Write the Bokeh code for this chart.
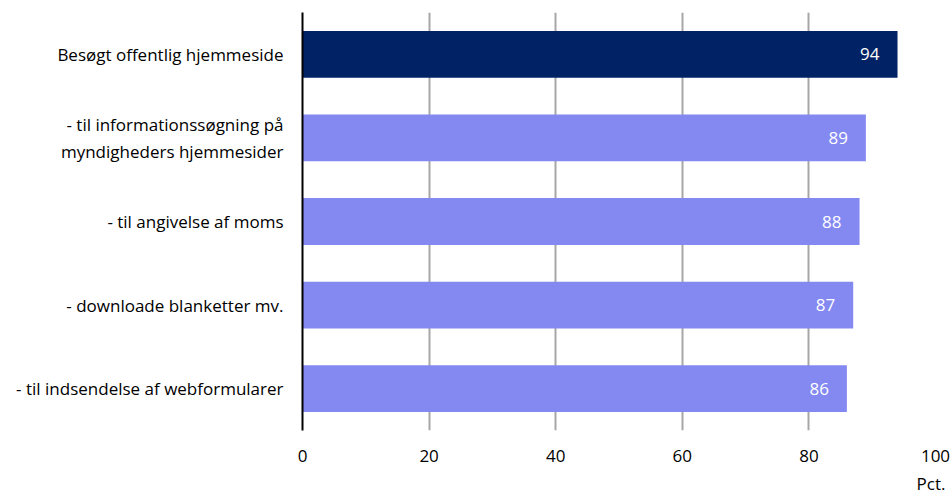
from bokeh.plotting import figure
from bokeh.models import FactorRange, Range1d, ColumnDataSource, FixedTicker, LabelSet, Title
from bokeh.core.properties import value
from bokeh.embed import file_html
from bokeh.resources import INLINE

categories = [
    "Besøgt offentlig hjemmeside",
    "- til informationssøgning på\nmyndigheders hjemmesider",
    "- til angivelse af moms",
    "- downloade blanketter mv.",
    "- til indsendelse af webformularer",
]
values = [94, 89, 88, 87, 86]
colors = ["#022266", "#8489f2", "#8489f2", "#8489f2", "#8489f2"]
x_ticks = [0, 20, 40, 60, 80, 100]

FONT = "Open Sans"
FS = "17px"

p = figure(
    width=952, height=499,
    y_range=FactorRange(*list(reversed(categories)), range_padding=0),
    x_range=Range1d(0, 100),
    output_backend="svg", toolbar_location=None,
    min_border_left=302, min_border_right=17, min_border_top=12, min_border_bottom=68,
)
p.outline_line_color = None

src = ColumnDataSource(dict(cat=categories, val=values, col=colors,
                            lab=[str(v) for v in values]))
p.hbar(y="cat", right="val", left=0, height=0.56, fill_color="col",
       line_color=None, source=src)

labels = LabelSet(x="val", y="cat", text="lab", source=src, x_offset=-18,
                  text_align="right", text_baseline="middle",
                  text_color=value("white"), text_font=value(FONT),
                  text_font_size=value(FS))
p.add_layout(labels)

p.xaxis.ticker = FixedTicker(ticks=x_ticks)
p.xaxis.axis_line_color = None
p.xaxis.major_tick_line_color = None
p.xaxis.minor_tick_line_color = None
p.xaxis.major_label_standoff = 13
p.xaxis.major_label_text_font = FONT
p.xaxis.major_label_text_font_size = FS
p.xaxis.major_label_text_color = "#000000"

p.yaxis.axis_line_color = "#000000"
p.yaxis.axis_line_width = 2
p.yaxis.major_tick_line_color = None
p.yaxis.minor_tick_line_color = None
p.yaxis.major_label_standoff = 13
p.yaxis.major_label_text_font = FONT
p.yaxis.major_label_text_font_size = FS
p.yaxis.major_label_text_color = "#000000"

p.xgrid.grid_line_color = "#a6a6a6"
p.xgrid.grid_line_width = 2
p.ygrid.grid_line_color = None

p.add_layout(Title(text="Pct.", align="right", offset=-10, standoff=10,
                   text_font=FONT, text_font_size=FS, text_font_style="normal",
                   text_color="#000000"), "below")

open("out.html", "w").write(file_html(p, INLINE))
